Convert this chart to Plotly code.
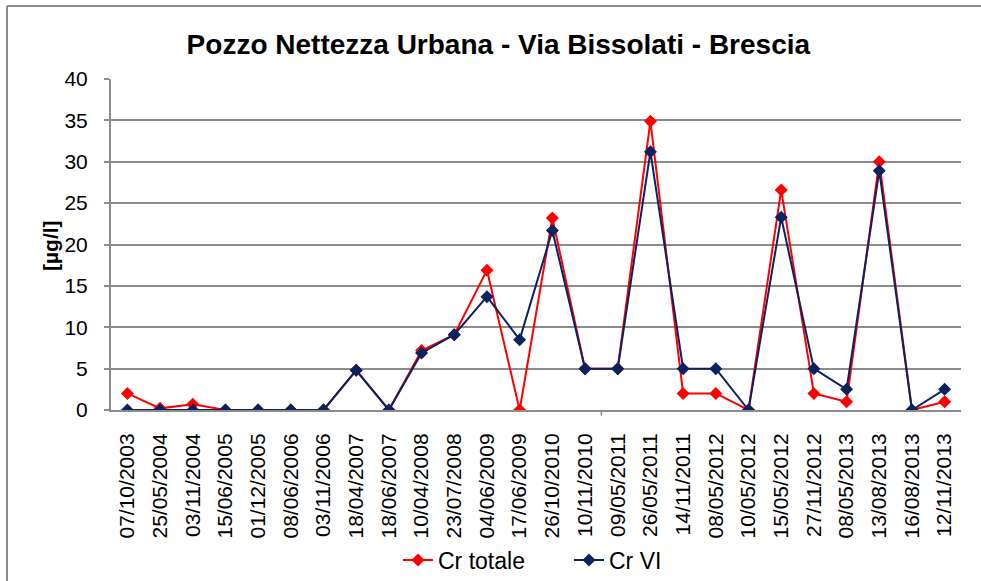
import plotly.graph_objects as go

dates = ["07/10/2003", "25/05/2004", "03/11/2004", "15/06/2005", "01/12/2005",
         "08/06/2006", "03/11/2006", "18/04/2007", "18/06/2007", "10/04/2008",
         "23/07/2008", "04/06/2009", "17/06/2009", "26/10/2010", "10/11/2010",
         "09/05/2011", "26/05/2011", "14/11/2011", "08/05/2012", "10/05/2012",
         "15/05/2012", "27/11/2012", "08/05/2013", "13/08/2013", "16/08/2013",
         "12/11/2013"]
cr_totale = [2.0, 0.2, 0.7, 0, 0, 0, 0, 4.8, 0, 7.2, 9.1, 16.9, 0, 23.2, 5, 5,
             34.9, 2, 2, 0, 26.6, 2, 1, 30, 0, 1]
cr_vi = [0, 0, 0, 0, 0, 0, 0, 4.8, 0, 6.9, 9.1, 13.7, 8.5, 21.7, 5, 5,
         31.2, 5, 5, 0, 23.3, 5, 2.5, 28.9, 0, 2.5]
y_ticks = [0, 5, 10, 15, 20, 25, 30, 35, 40]

RED = "#FF0000"
NAVY = "#0B2260"
GRID = "#8C8C8C"

fig = go.Figure()
fig.add_trace(go.Scatter(x=dates, y=cr_totale, name="Cr totale", mode="lines+markers",
                         line=dict(color=RED, width=2),
                         marker=dict(symbol="diamond", size=10, color=RED)))
fig.add_trace(go.Scatter(x=dates, y=cr_vi, name="Cr VI", mode="lines+markers",
                         line=dict(color=NAVY, width=2),
                         marker=dict(symbol="diamond", size=10, color=NAVY)))

fig.update_layout(
    width=981, height=581,
    margin=dict(l=111, r=20, t=79, b=171, autoexpand=False),
    paper_bgcolor="white", plot_bgcolor="white",
    font=dict(family="Liberation Sans, Arial, sans-serif", size=21, color="black"),
    title=dict(text="<b>Pozzo Nettezza Urbana - Via Bissolati - Brescia</b>",
               x=0.508, xanchor="center", y=1 - 44 / 581, yanchor="middle",
               font=dict(size=28, color="black")),
    showlegend=True,
    legend=dict(orientation="h", xref="container", yref="container",
                x=398 / 981, xanchor="left", y=(581 - 560) / 581, yanchor="middle",
                font=dict(size=23), bgcolor="rgba(0,0,0,0)",
                entrywidth=126, entrywidthmode="pixels"),
    xaxis=dict(type="category", range=[-0.5, len(dates) - 0.5], tickangle=-90,
               showgrid=False, showline=True, linecolor=GRID, linewidth=2,
               ticks="", tickfont=dict(size=21), zeroline=False, fixedrange=True,
               ticklabelstandoff=13, automargin=False),
    yaxis=dict(range=[0, 40], tickvals=y_ticks, showgrid=True, gridcolor=GRID,
               gridwidth=1.5, showline=True, linecolor=GRID, linewidth=2,
               ticks="outside", ticklen=5, tickcolor=GRID, tickwidth=1.5,
               tickfont=dict(size=21), zeroline=False, ticklabelstandoff=12,
               automargin=False, fixedrange=True),
    annotations=[dict(text="<b>[µg/l]</b>", xref="paper", yref="paper",
                      x=(50 - 111) / 850, y=(410 - 246) / 331, textangle=-90,
                      showarrow=False, xanchor="center", yanchor="middle",
                      font=dict(size=21))],
    shapes=[
        dict(type="line", xref="x", yref="paper", x0=14.5, x1=14.5, y0=0, y1=-0.017,
             line=dict(color=GRID, width=1.5)),
        dict(type="line", xref="paper", yref="paper",
             x0=-104 / 850, x1=-104 / 850, y0=-0.6, y1=(410 - 6) / 331,
             line=dict(color=GRID, width=2), layer="below"),
        dict(type="line", xref="paper", yref="paper",
             x0=-104 / 850, x1=1.05, y0=(410 - 6) / 331, y1=(410 - 6) / 331,
             line=dict(color=GRID, width=2), layer="below"),
    ],
)

fig.write_html("out.html", config={"displayModeBar": False},
               post_script="document.body.style.margin='0';"
                           "document.body.style.overflow='hidden';")
